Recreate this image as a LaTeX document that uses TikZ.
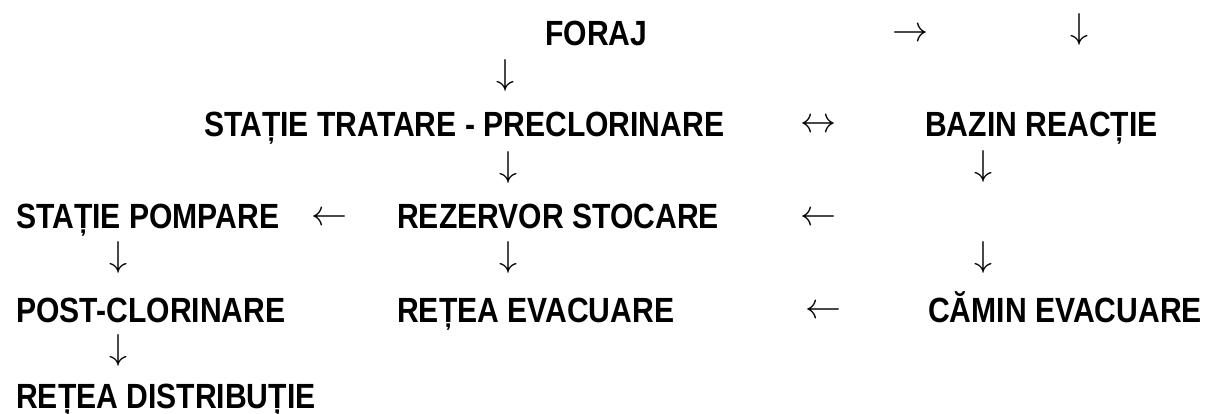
\documentclass[tikz,border=0pt]{standalone}
\usepackage{fontspec}
\setmainfont{Liberation Sans}[FakeStretch=0.86]
\begin{document}
\begin{tikzpicture}[x=1pt,y=-1pt,
  lbl/.style={font=\fontsize{35}{38}\selectfont\bfseries, inner sep=0pt, anchor=base west},
  arr/.style={font=\fontsize{10}{12}\selectfont, inner sep=0pt, anchor=center, scale=3.6, transform shape}]
\useasboundingbox (0,0) rectangle (1209,413);
% labels
\node[lbl] (foraj) at (545,45) {FORAJ};
\node[lbl] (tratare) at (204,136) {STAȚIE TRATARE - PRECLORINARE};
\node[lbl] (bazin) at (925,136) {BAZIN REACȚIE};
\node[lbl] (pompare) at (16,228) {STAȚIE POMPARE};
\node[lbl] (rezervor) at (397,228) {REZERVOR STOCARE};
\node[lbl] (post) at (16,322) {POST-CLORINARE};
\node[lbl] (evac) at (397,322) {REȚEA EVACUARE};
\node[lbl] (camin) at (928,322) {CĂMIN EVACUARE};
\node[lbl] (distrib) at (16,408) {REȚEA DISTRIBUȚIE};
% arrow glyphs
\node[arr] (a1) at (910,35) {$\rightarrow$};
\node[arr] (a2) at (1079,29) {$\downarrow$};
\node[arr] (a3) at (505,75) {$\downarrow$};
\node[arr] (a4) at (818,126) {$\leftrightarrow$};
\node[arr] (a5) at (508,167) {$\downarrow$};
\node[arr] (a6) at (983,166) {$\downarrow$};
\node[arr] (a7) at (329,219) {$\leftarrow$};
\node[arr] (a8) at (818,219) {$\leftarrow$};
\node[arr] (a9) at (118,257) {$\downarrow$};
\node[arr] (a10) at (508,257) {$\downarrow$};
\node[arr] (a11) at (983,257) {$\downarrow$};
\node[arr] (a12) at (823,312) {$\leftarrow$};
\node[arr] (a13) at (118,350) {$\downarrow$};
\end{tikzpicture}
\end{document}
